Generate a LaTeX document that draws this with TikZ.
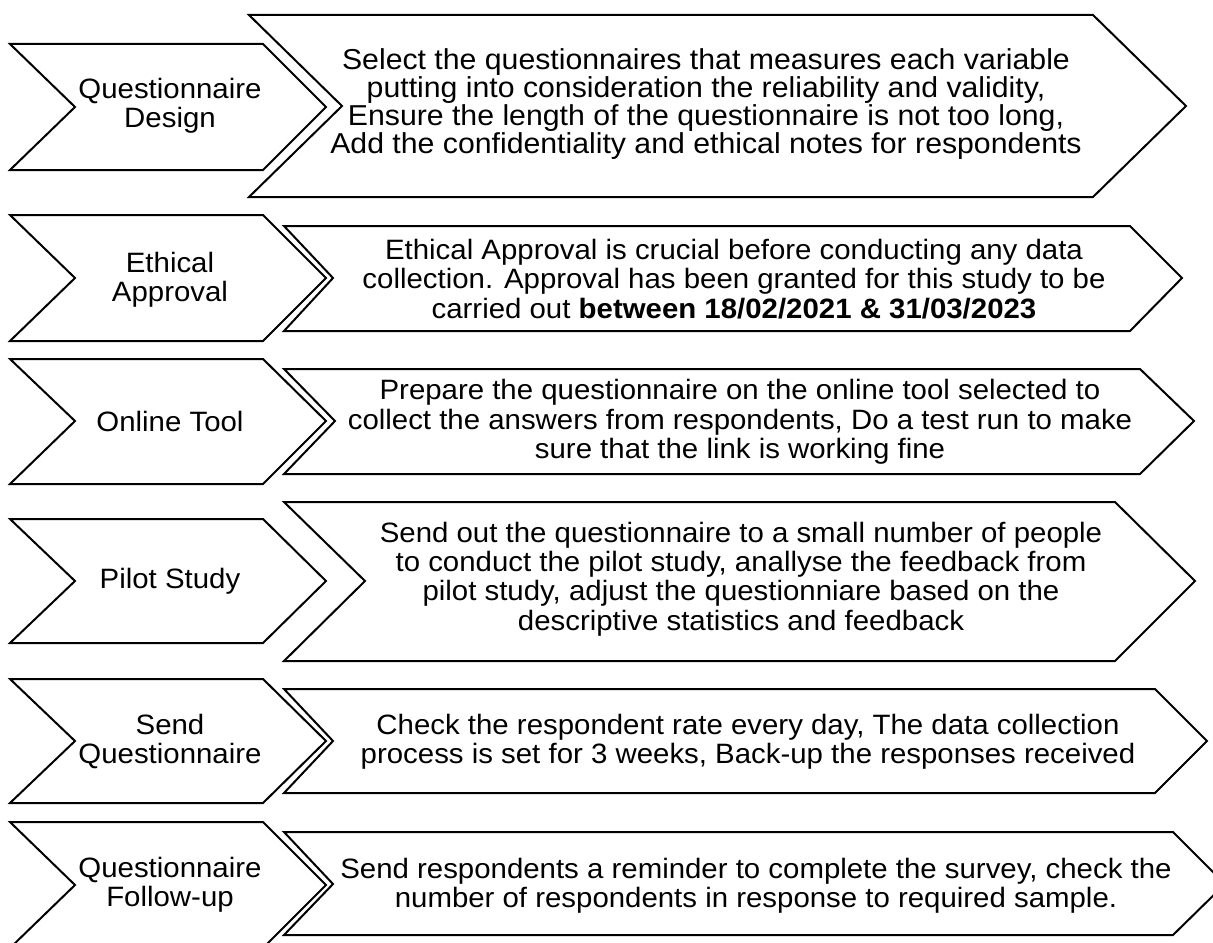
\documentclass[tikz,border=0pt]{standalone}
\usepackage{fontspec}
\setmainfont{Liberation Sans}[FakeStretch=1.05]
\usetikzlibrary{positioning}

\tikzset{
  steptext/.style={align=center, font=\fontsize{21}{21.75}\selectfont},
  notetext/.style={align=center, font=\fontsize{21}{22}\selectfont},
}

\begin{document}
\begin{tikzpicture}[x=0.75pt, y=-0.75pt, line width=1.5pt]
		\useasboundingbox (0, 0) rectangle (1213, 942);
		% row 1
		\draw (10, 44) -- (263, 44) -- (326, 107) -- (263, 170) -- (10, 170) -- (75, 107) -- cycle;
		\draw (249, 15) -- (1093, 15) -- (1186, 106) -- (1093, 197) -- (249, 197) -- (342, 106) -- cycle;
		\node[steptext] (design) at (170, 106) {Questionnaire\\Design};
		\node[notetext, font=\fontsize{21.6}{20}\selectfont] (design-note) at (706, 104) {Select the questionnaires that measures each variable\\putting into consideration the reliability and validity,\\Ensure the length of the questionnaire is not too long,\\Add the confidentiality and ethical notes for respondents};
		% row 2
		\draw (10, 215) -- (263, 215) -- (326, 278) -- (263, 341) -- (10, 341) -- (75, 278) -- cycle;
		\draw (284, 226) -- (1130, 226) -- (1182, 278) -- (1130, 331) -- (284, 331) -- (333, 278) -- cycle;
		\node[steptext] (ethics) at (170, 280) {Ethical\\Approval};
		\node[notetext] (ethics-note) at (734, 279) {Ethical Approval is crucial before conducting any data\\collection. Approval has been granted for this study to be\\carried out \textbf{between 18/02/2021 \& 31/03/2023}};
		% row 3
		\draw (10, 359) -- (263, 359) -- (326, 421) -- (263, 484) -- (10, 484) -- (75, 421) -- cycle;
		\draw (284, 369) -- (1140, 369) -- (1194, 421) -- (1140, 474) -- (284, 474) -- (335, 421) -- cycle;
		\node[steptext] (tool) at (170, 421) {Online Tool};
		\node[notetext] (tool-note) at (740, 422) {Prepare the questionnaire on the online tool selected to\\collect the answers from respondents, Do a test run to make\\sure that the link is working fine};
		% row 4
		\draw (10, 519) -- (263, 519) -- (326, 581) -- (263, 643) -- (10, 643) -- (75, 581) -- cycle;
		\draw (284, 502) -- (1115, 502) -- (1195, 581) -- (1115, 661) -- (284, 661) -- (365, 581) -- cycle;
		\node[steptext] (pilot) at (170, 581) {Pilot Study};
		\node[notetext] (pilot-note) at (741, 579) {Send out the questionnaire to a small number of people\\to conduct the pilot study, anallyse the feedback from\\pilot study, adjust the questionniare based on the\\descriptive statistics and feedback};
		% row 5
		\draw (10, 679) -- (263, 679) -- (326, 741) -- (263, 803) -- (10, 803) -- (75, 741) -- cycle;
		\draw (284, 689) -- (1155, 689) -- (1207, 741) -- (1155, 793) -- (284, 793) -- (333, 741) -- cycle;
		\node[steptext] (send) at (170, 741) {Send\\Questionnaire};
		\node[notetext] (send-note) at (748, 742) {Check the respondent rate every day, The data collection\\process is set for 3 weeks, Back-up the responses received};
		% row 6
		\draw (10, 822) -- (263, 822) -- (326, 885) -- (263, 948) -- (10, 948) -- (75, 885) -- cycle;
		\draw (284, 832) -- (1173, 832) -- (1225, 884) -- (1173, 935) -- (284, 935) -- (333, 884) -- cycle;
		\node[steptext] (follow) at (170, 885) {Questionnaire\\Follow-up};
		\node[notetext] (follow-note) at (756, 886) {Send respondents a reminder to complete the survey, check the\\number of respondents in response to required sample.};
	\end{tikzpicture}
\end{document}
